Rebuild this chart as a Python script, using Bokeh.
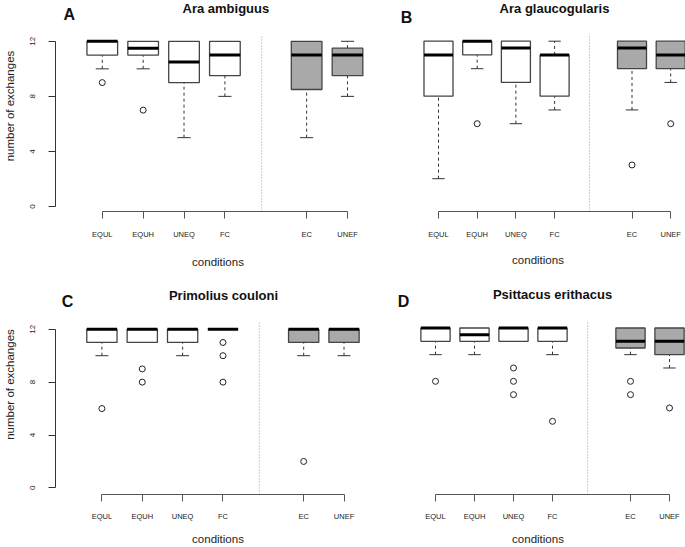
from bokeh.plotting import figure
from bokeh.layouts import column, row
from bokeh.models import Range1d, FixedTicker
from bokeh.core.properties import value
from bokeh.embed import file_html
from bokeh.resources import INLINE

# ---------------- data ----------------
conditions = ["EQUL", "EQUH", "UNEQ", "FC", "EC", "UNEF"]
positions = [1, 2, 3, 4, 6, 7]
fills = ["white", "white", "white", "white", "#a9a9a9", "#a9a9a9"]
separator_at = 4.9
y_ticks = [0, 4, 8, 12]

species = ["Ara ambiguus", "Ara glaucogularis", "Primolius couloni", "Psittacus erithacus"]
letters = ["A", "B", "C", "D"]

a_q1 = [11, 11, 9, 9.5, 8.5, 9.5]
a_med = [12, 11.5, 10.5, 11, 11, 11]
a_q3 = [12, 12, 12, 12, 12, 11.5]
a_lo = [10, 10, 5, 8, 5, 8]
a_hi = [12, 12, 12, 12, 12, 12]
a_out = [[9], [7], [], [], [], []]

b_q1 = [8, 11, 9, 8, 10, 10]
b_med = [11, 12, 11.5, 11, 11.5, 11]
b_q3 = [12, 12, 12, 11, 12, 12]
b_lo = [2, 10, 6, 7, 7, 9]
b_hi = [12, 12, 12, 12, 12, 12]
b_out = [[], [6], [], [], [3], [6]]

c_q1 = [11, 11, 11, 12, 11, 11]
c_med = [12, 12, 12, 12, 12, 12]
c_q3 = [12, 12, 12, 12, 12, 12]
c_lo = [10, 11, 10, 12, 10, 10]
c_hi = [12, 12, 12, 12, 12, 12]
c_out = [[6], [9, 8], [], [11, 10, 8], [2], []]

d_q1 = [11, 11, 11, 11, 10.5, 10]
d_med = [12, 11.5, 12, 12, 11, 11]
d_q3 = [12, 12, 12, 12, 12, 12]
d_lo = [10, 10, 11, 10, 10, 9]
d_hi = [12, 12, 12, 12, 12, 12]
d_out = [[8], [], [9, 8, 7], [5], [8, 7], [6]]

FONT_NAME = "Liberation Sans"
FONT = value(FONT_NAME)
BOX_HALF = 0.375
CAP_HALF = 0.16


def make_panel(stats, label, title, fig_box, frame, xmap, ymap, show_y, title_px, letter_px,
               label_standoff, axis_label_standoff):
    q1, med, q3, lo, hi, out = stats
    fx, fy, fw, fh = fig_box
    fl, ft, fr, fb = frame
    pos1_px, unit = xmap
    ref_px, ppu = ymap

    def xv(px):
        return 1 + (px - pos1_px) / unit

    def yv(py):
        return 12 - (py - ref_px) / ppu

    p = figure(width=fw, height=fh,
               x_range=Range1d(xv(fl), xv(fr)), y_range=Range1d(yv(fb), yv(ft)),
               output_backend="svg", toolbar_location=None,
               min_border_left=int(round(fl - fx)), min_border_right=int(round(fx + fw - fr)),
               min_border_top=int(round(ft - fy)), min_border_bottom=int(round(fy + fh - fb)),
               outline_line_color=None, background_fill_color="white",
               border_fill_color="white")
    p.xgrid.visible = False
    p.ygrid.visible = False

    # x axis
    xa = p.xaxis[0]
    xa.ticker = FixedTicker(ticks=positions)
    xa.major_label_overrides = {pp: c for pp, c in zip(positions, conditions)}
    xa.bounds = (positions[0], positions[-1])
    xa.axis_line_color = "#555555"
    xa.major_tick_line_color = "#555555"
    xa.major_tick_out = 7
    xa.major_tick_in = 0
    xa.minor_tick_line_color = None
    xa.major_label_text_font = FONT_NAME
    xa.major_label_text_font_size = "7.5px"
    xa.major_label_text_color = "#222222"
    xa.major_label_standoff = label_standoff
    xa.axis_label = "conditions"
    xa.axis_label_text_font = FONT_NAME
    xa.axis_label_text_font_size = "11.5px"
    xa.axis_label_text_font_style = "normal"
    xa.axis_label_text_color = "#222222"
    xa.axis_label_standoff = axis_label_standoff

    ya = p.yaxis[0]
    if show_y:
        ya.ticker = FixedTicker(ticks=y_ticks)
        ya.bounds = (y_ticks[0], y_ticks[-1])
        ya.axis_line_color = "#333333"
        ya.major_tick_line_color = "#333333"
        ya.major_tick_out = 7
        ya.major_tick_in = 0
        ya.minor_tick_line_color = None
        ya.major_label_orientation = "vertical"
        ya.major_label_text_font = FONT_NAME
        ya.major_label_text_font_size = "8px"
        ya.major_label_text_color = "#222222"
        ya.major_label_standoff = 13
        ya.axis_label = "number of exchanges"
        ya.axis_label_text_font = FONT_NAME
        ya.axis_label_text_font_size = "11.5px"
        ya.axis_label_text_font_style = "normal"
        ya.axis_label_text_color = "#222222"
        ya.axis_label_standoff = 12
    else:
        ya.visible = False

    # separator
    p.segment(x0=[separator_at], y0=[yv(fb)], x1=[separator_at], y1=[12.5],
              line_color="#999999", line_width=1, line_dash="1 2")

    # whiskers (dashed) and caps
    for x, a, b, l, h in zip(positions, q1, q3, lo, hi):
        if l < a:
            p.segment(x0=[x], y0=[l], x1=[x], y1=[a], line_color="#333333",
                      line_width=1, line_dash="3 3")
            p.segment(x0=[x - CAP_HALF], y0=[l], x1=[x + CAP_HALF], y1=[l],
                      line_color="#333333", line_width=1)
        if h > b:
            p.segment(x0=[x], y0=[b], x1=[x], y1=[h], line_color="#333333",
                      line_width=1, line_dash="3 3")
            p.segment(x0=[x - CAP_HALF], y0=[h], x1=[x + CAP_HALF], y1=[h],
                      line_color="#333333", line_width=1)

    # boxes
    p.quad(left=[x - BOX_HALF for x in positions], right=[x + BOX_HALF for x in positions],
           bottom=q1, top=q3, fill_color=fills, line_color="#444444", line_width=1.3)
    # medians
    p.segment(x0=[x - BOX_HALF for x in positions], y0=med,
              x1=[x + BOX_HALF for x in positions], y1=med,
              line_color="black", line_width=3)
    # outliers
    ox, oy = [], []
    for x, vals in zip(positions, out):
        for v in vals:
            ox.append(x)
            oy.append(v)
    if ox:
        p.scatter(x=ox, y=oy, marker="circle", size=6, fill_color=None,
                  line_color="#222222", line_width=1)

    # title and panel letter
    p.text(x=[xv(title_px[0])], y=[yv(title_px[1])], text=[title], text_font=FONT,
           text_font_style="bold", text_font_size="13px", text_align="center",
           text_baseline="middle", text_color="#111111")
    p.text(x=[xv(letter_px[0])], y=[yv(letter_px[1])], text=[label], text_font=FONT,
           text_font_style="bold", text_font_size="16px", text_align="center",
           text_baseline="middle", text_color="#111111")
    return p


pA = make_panel((a_q1, a_med, a_q3, a_lo, a_hi, a_out), letters[0], species[0],
                (0, 0, 380, 274), (50, 0, 380, 212), (97.5, 41.5), (41, 13.83), True,
                (223, 8), (64, 14.5), 11, 14)
pB = make_panel((b_q1, b_med, b_q3, b_lo, b_hi, b_out), letters[1], species[1],
                (380, 0, 305, 274), (390, 0, 685, 211), (438, 38.7), (40.7, 13.75), False,
                (554, 8), (406, 17), 11, 12)
pC = make_panel((c_q1, c_med, c_q3, c_lo, c_hi, c_out), letters[2], species[2],
                (0, 274, 380, 273), (53, 274, 380, 495), (99.7, 40.6), (329, 13.28), True,
                (222, 295), (65, 301.5), 10, 9)
pD = make_panel((d_q1, d_med, d_q3, d_lo, d_hi, d_out), letters[3], species[3],
                (380, 274, 305, 273), (390, 274, 685, 494), (435, 39), (327.5, 13.33), False,
                (552, 293.5), (403, 300.5), 10, 9)

layout = column(row(pA, pB, spacing=0), row(pC, pD, spacing=0), spacing=0)

open("out.html", "w").write(file_html(layout, INLINE))
